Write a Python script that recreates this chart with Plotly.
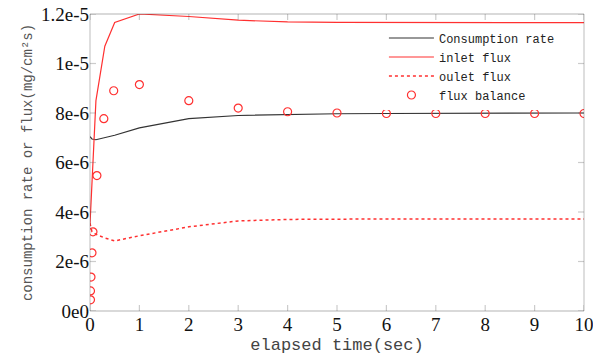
import plotly.graph_objects as go

# ---- data ----
t_line = [0, 0.04, 0.12, 0.3, 0.5, 1, 2, 3, 4, 5, 6, 7, 8, 9, 10]
consumption = [7.05e-6, 6.95e-6, 6.92e-6, 7.0e-6, 7.1e-6, 7.4e-6, 7.77e-6, 7.9e-6, 7.95e-6, 7.97e-6, 7.98e-6, 7.99e-6, 8.0e-6, 8.0e-6, 8.0e-6]
inlet = [3.5e-6, 5.3e-6, 8.5e-6, 1.07e-5, 1.166e-5, 1.2e-5, 1.19e-5, 1.175e-5, 1.168e-5, 1.166e-5, 1.165e-5, 1.165e-5, 1.165e-5, 1.165e-5, 1.165e-5]
outlet = [3.55e-6, 3.2e-6, 3.1e-6, 2.95e-6, 2.83e-6, 3.04e-6, 3.4e-6, 3.64e-6, 3.7e-6, 3.72e-6, 3.72e-6, 3.72e-6, 3.72e-6, 3.72e-6, 3.72e-6]
t_bal = [0.01, 0.01, 0.02, 0.04, 0.06, 0.14, 0.28, 0.48, 1, 2, 3, 4, 5, 6, 7, 8, 9, 10]
balance = [0.45e-6, 0.81e-6, 1.37e-6, 2.35e-6, 3.2e-6, 5.47e-6, 7.77e-6, 8.9e-6, 9.15e-6, 8.5e-6, 8.2e-6, 8.05e-6, 8.0e-6, 7.98e-6, 7.98e-6, 7.98e-6, 7.98e-6, 7.98e-6]

y_tickvals = [0, 2e-6, 4e-6, 6e-6, 8e-6, 1e-5, 1.2e-5]
y_ticktext = ["0e0", "2e-6", "4e-6", "6e-6", "8e-6", "1e-5", "1.2e-5"]
x_tickvals = [0, 1, 2, 3, 4, 5, 6, 7, 8, 9, 10]

RED = "#ff3030"
FRAME = "#5a5a5a"
mono = "'Liberation Mono', 'Courier New', monospace"
serif = "'Liberation Serif', 'Times New Roman', serif"

W, H = 593, 363
M = dict(l=90, r=9, t=14, b=52)
plot_w = W - M["l"] - M["r"]
plot_h = H - M["t"] - M["b"]
TICK_PX = 6

fig = go.Figure()
fig.add_trace(go.Scatter(x=t_line, y=consumption, mode="lines", name="Consumption rate",
                         line=dict(color="#333333", width=1.2)))
fig.add_trace(go.Scatter(x=t_line, y=inlet, mode="lines", name="inlet flux",
                         line=dict(color=RED, width=1.2)))
fig.add_trace(go.Scatter(x=t_line, y=outlet, mode="lines", name="oulet flux",
                         line=dict(color=RED, width=1.5, dash="dot")))
fig.add_trace(go.Scatter(x=t_bal, y=balance, mode="markers", name="flux balance",
                         marker=dict(symbol="circle-open", size=8, color=RED, line=dict(width=1.2))))

# frame (four line shapes) and inside ticks mirrored on all sides, from the tick arrays
frame_line = dict(color=FRAME, width=1.3)
shapes = [
    dict(type="line", xref="paper", yref="paper", x0=0, y0=0, x1=1, y1=0, line=frame_line, layer="above"),
    dict(type="line", xref="paper", yref="paper", x0=0, y0=1, x1=1, y1=1, line=frame_line, layer="above"),
    dict(type="line", xref="paper", yref="paper", x0=0, y0=0, x1=0, y1=1, line=frame_line, layer="above"),
    dict(type="line", xref="paper", yref="paper", x0=1, y0=0, x1=1, y1=1, line=frame_line, layer="above"),
]
tx = TICK_PX / plot_h
ty = TICK_PX / plot_w
for v in x_tickvals:
    shapes.append(dict(type="line", xref="x", yref="paper", x0=v, x1=v, y0=0, y1=tx,
                       line=dict(color=FRAME, width=1.2)))
    shapes.append(dict(type="line", xref="x", yref="paper", x0=v, x1=v, y0=1, y1=1 - tx,
                       line=dict(color=FRAME, width=1.2)))
for v in y_tickvals:
    shapes.append(dict(type="line", xref="paper", yref="y", x0=0, x1=ty, y0=v, y1=v,
                       line=dict(color=FRAME, width=1.2)))
    shapes.append(dict(type="line", xref="paper", yref="y", x0=1, x1=1 - ty, y0=v, y1=v,
                       line=dict(color=FRAME, width=1.2)))

axis_common = dict(showline=False, ticks="", showgrid=False, zeroline=False, automargin=False)

fig.update_layout(
    template="simple_white",
    width=W, height=H,
    margin=M,
    paper_bgcolor="white", plot_bgcolor="white",
    showlegend=True,
    shapes=shapes,
    legend=dict(x=0.595, y=0.968, xanchor="left", yanchor="top", bgcolor="white",
                font=dict(family=mono, size=12, color="#222222"), tracegroupgap=0,
                itemwidth=45),
    xaxis=dict(range=[0, 10], tickvals=x_tickvals, ticklabeloverflow="allow",
               tickfont=dict(family=serif, size=19, color="#111111"),
               title=dict(text="elapsed time(sec)", font=dict(family=mono, size=17, color="#444444"), standoff=4),
               **axis_common),
    yaxis=dict(range=[0, 1.2e-5], tickvals=y_tickvals, ticktext=y_ticktext,
               tickfont=dict(family=serif, size=19, color="#111111"),
               title=dict(text="consumption rate or flux(mg/cm²s)", font=dict(family=mono, size=14, color="#555555"), standoff=5),
               **axis_common),
)

post = "document.body.style.margin='0';document.body.style.padding='0';"
fig.write_html("out.html", config={"displayModeBar": False}, post_script=post)
